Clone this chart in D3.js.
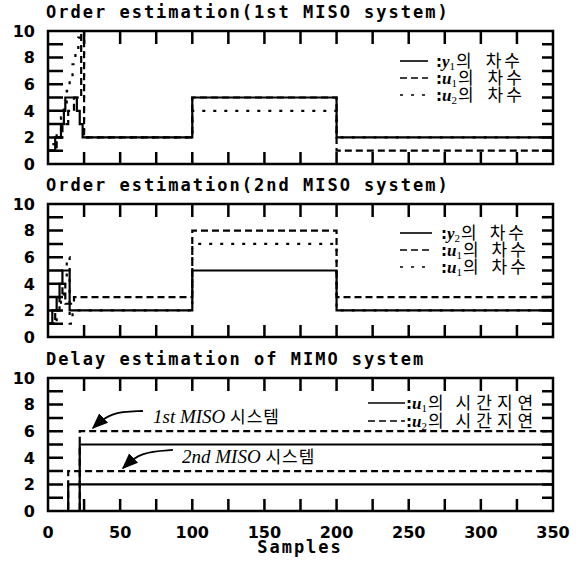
<!DOCTYPE html>
<html><head><meta charset="utf-8">
<script src="https://cdn.jsdelivr.net/npm/d3@7"></script>
<style>body{margin:0;background:#fff}</style>
</head><body>
<svg id="c" width="581" height="561" xmlns="http://www.w3.org/2000/svg"></svg>
<script>
// ---------- data ----------
const xDomain = [0, 350];
const yDomain = [0, 10];
const xMinorTicks = [25, 50, 75, 100, 125, 150, 175, 200, 225, 250, 275, 300, 325];
const xTickLabels = [0, 50, 100, 150, 200, 250, 300, 350];
const yMinorTicks = [1, 2, 3, 4, 5, 6, 7, 8, 9];
const yTickLabels = [0, 2, 4, 6, 8, 10];
const xAxisTitle = "Samples";

const titles = [
  "Order estimation(1st MISO system)",
  "Order estimation(2nd MISO system)",
  "Delay estimation of MIMO system"
];

// Panel 1 : order estimation, 1st MISO system  [sample, order]
const p1_y1 = [[0,1],[5,2],[9,3],[11,4],[12,5],[20,4],[22,3],[24,2],[100,5],[200,2],[350,2]];
const p1_u1 = [[0,1],[6,2],[10,3],[14,4],[18,5],[23,10],[25,2],[100,5],[200,1],[350,1]];
const p1_u2 = [[0,1],[3,1.5],[6,2.5],[9,3.5],[11,4.5],[13,5.5],[15,6.5],[17,7.5],[19,8.5],[21,9.5],[23,10],[25,2],[100,4],[200,2],[350,2]];

// Panel 2 : order estimation, 2nd MISO system
const p2_y2 = [[0,1],[3,2],[6,3],[8,4],[10,5],[15,2],[100,5],[200,2],[350,2]];
const p2_u1 = [[0,1],[5,2],[8,3],[10,4],[12,2.5],[18,3],[100,8],[200,3],[350,3]];
const p2_u2 = [[0,1],[6,2],[9,3],[11,4],[13,6],[15,1],[17,2],[100,7],[200,2],[350,2]];

// Panel 3 : delay estimation of MIMO system
const p3_1st_u1 = [[0,0],[22,5],[350,5]];
const p3_1st_u2 = [[0,0],[22,6],[350,6]];
const p3_2nd_u1 = [[0,0],[14,2],[350,2]];
const p3_2nd_u2 = [[0,0],[14,3],[350,3]];

const legend1 = [["solid","y","1","차수"],["dashed","u","1","차수"],["dotted","u","2","차수"]];
const legend2 = [["solid","y","2","차수"],["dashed","u","1","차수"],["dotted","u","1","차수"]];
const legend3 = [["solid","u","1","시간지연"],["dashed","u","2","시간지연"]];

// annotations in data units: text anchor, arrow start, bend, tip
const annotations = [
  {label:["1st MISO ","시스템"], text:[72.8,6.62], path:[[65.8,7.52],[43,7.44],[31.2,6.24]]},
  {label:["2nd MISO ","시스템"], text:[92.9,3.61], path:[[86.6,4.59],[63.8,4.44],[52,3.23]]}
];

// ---------- layout ----------
const L = 48, R = 553;
const panelTops = [31, 204, 378];
const panelH = 133;
const dash = {solid:null, dashed:"7,4", dotted:"3,8"};
const monoFont = "'DejaVu Sans Mono', monospace";
const numFont = "'DejaVu Sans', sans-serif";
const cjk = "'Noto Sans CJK KR', sans-serif";

const svg = d3.select("#c");
svg.append("rect").attr("width",581).attr("height",561).attr("fill","#fff");
const defs = svg.append("defs");
defs.append("marker").attr("id","ah").attr("viewBox","0 0 10 10").attr("refX",9).attr("refY",5)
  .attr("markerWidth",9).attr("markerHeight",9).attr("orient","auto")
  .append("path").attr("d","M0,1 L10,5 L0,9 Z").attr("fill","#000");

const x = d3.scaleLinear().domain(xDomain).range([L, R]);

const panelSeries = [
  [[p1_y1,"solid"],[p1_u1,"dashed"],[p1_u2,"dotted"]],
  [[p2_y2,"solid"],[p2_u1,"dashed"],[p2_u2,"dotted"]],
  [[p3_1st_u1,"solid"],[p3_1st_u2,"dashed"],[p3_2nd_u1,"solid"],[p3_2nd_u2,"dashed"]]
];
const legends = [legend1, legend2, legend3];
const legendGeom = [
  {x0:400, x1:428, tx:436, y0:30, step:17, ls:3, gap:14},
  {x0:400, x1:432, tx:441, y0:29, step:17, ls:3, gap:13},
  {x0:368, x1:405, tx:406, y0:25, step:18, ls:5, gap:12}
];

panelTops.forEach((pTop, i) => {
  const pBottom = pTop + panelH;
  const y = d3.scaleLinear().domain(yDomain).range([pBottom, pTop]);
  const g = svg.append("g");

  // title
  g.append("text").attr("x", 46).attr("y", pTop - 13)
    .attr("font-family", monoFont).attr("font-weight","bold").attr("font-size",17)
    .attr("letter-spacing", 2).attr("fill","#000").text(titles[i]);

  // clip
  const cid = "clip"+i;
  defs.append("clipPath").attr("id",cid).append("rect")
    .attr("x",L).attr("y",pTop-1).attr("width",R-L).attr("height",panelH+2);

  // series
  const line = d3.line().x(d=>x(d[0])).y(d=>y(d[1])).curve(d3.curveStepAfter);
  const sg = g.append("g").attr("clip-path","url(#"+cid+")");
  panelSeries[i].forEach(([data, style]) => {
    sg.append("path").attr("d", line(data)).attr("fill","none")
      .attr("stroke","#000").attr("stroke-width",2.2)
      .attr("stroke-dasharray", dash[style]);
  });

  // y tick labels
  g.selectAll("text.yl").data(yTickLabels).join("text").attr("class","yl")
    .attr("x",L-13).attr("y",d=>y(d)).attr("dy","0.36em").attr("text-anchor","end")
    .attr("font-family",numFont).attr("font-weight","bold").attr("font-size",16)
    .attr("fill","#000").text(d=>d);

  // frame and inward ticks in one path, built from the scales
  const fp = d3.path();
  fp.rect(L, pTop, R-L, panelH);
  yMinorTicks.forEach(v => {
    fp.moveTo(L, y(v)); fp.lineTo(L+15, y(v));
    fp.moveTo(R-11, y(v)); fp.lineTo(R, y(v));
  });
  xMinorTicks.forEach(v => {
    fp.moveTo(x(v), pTop); fp.lineTo(x(v), pTop+13);
    fp.moveTo(x(v), pBottom-12); fp.lineTo(x(v), pBottom);
  });
  g.append("path").attr("d", fp.toString()).attr("fill","none")
    .attr("stroke","#000").attr("stroke-width",2.5);

  // legend
  const lg = legendGeom[i];
  legends[i].forEach((row, j) => {
    const yy = pTop + lg.y0 + j*lg.step;
    g.append("line").attr("x1",lg.x0).attr("x2",lg.x1).attr("y1",yy).attr("y2",yy)
      .attr("stroke","#000").attr("stroke-width",1.6).attr("stroke-dasharray", dash[row[0]]);
    const t = g.append("text").attr("x",lg.tx).attr("y",yy+6).attr("fill","#000");
    t.append("tspan").attr("font-family",numFont).attr("font-size",15).attr("font-weight","bold").text(":");
    t.append("tspan").attr("font-family","'Liberation Serif', serif").attr("font-style","italic")
      .attr("font-weight","bold").attr("font-size",17).text(row[1]);
    t.append("tspan").attr("font-family","'Liberation Serif', serif").attr("font-size",11)
      .attr("dy",3).text(row[2]);
    t.append("tspan").attr("font-family",cjk).attr("font-size",17).attr("dy",-3).attr("dx",1).text("의");
    t.append("tspan").attr("font-family",cjk).attr("font-size",17).attr("dx",lg.gap)
      .attr("letter-spacing",lg.ls).text(row[3]);
  });

  if (i === 2) {
    // x tick labels
    g.selectAll("text.xl").data(xTickLabels).join("text").attr("class","xl")
      .attr("x",d=>x(d)).attr("y",pBottom+27).attr("text-anchor","middle")
      .attr("font-family",numFont).attr("font-weight","bold").attr("font-size",16)
      .attr("fill","#000").text(d=>d);
    // annotations
    annotations.forEach(a => {
      const p = d3.line().x(d=>x(d[0])).y(d=>y(d[1])).curve(d3.curveBasis)(a.path);
      g.append("path").attr("d",p).attr("fill","none").attr("stroke","#000")
        .attr("stroke-width",1.8).attr("marker-end","url(#ah)");
      const t = g.append("text").attr("x",x(a.text[0])).attr("y",y(a.text[1])).attr("fill","#000");
      t.append("tspan").attr("font-family","'Liberation Serif', serif").attr("font-style","italic")
        .attr("font-size",19).text(a.label[0]);
      t.append("tspan").attr("font-family",cjk).attr("font-size",17).attr("letter-spacing",1)
        .text(a.label[1]);
    });
    // x axis title
    g.append("text").attr("x",300).attr("y",553).attr("text-anchor","middle")
      .attr("font-family",monoFont).attr("font-weight","bold").attr("font-size",17)
      .attr("letter-spacing",2).attr("fill","#000").text(xAxisTitle);
  }
});
</script>
</body></html>
